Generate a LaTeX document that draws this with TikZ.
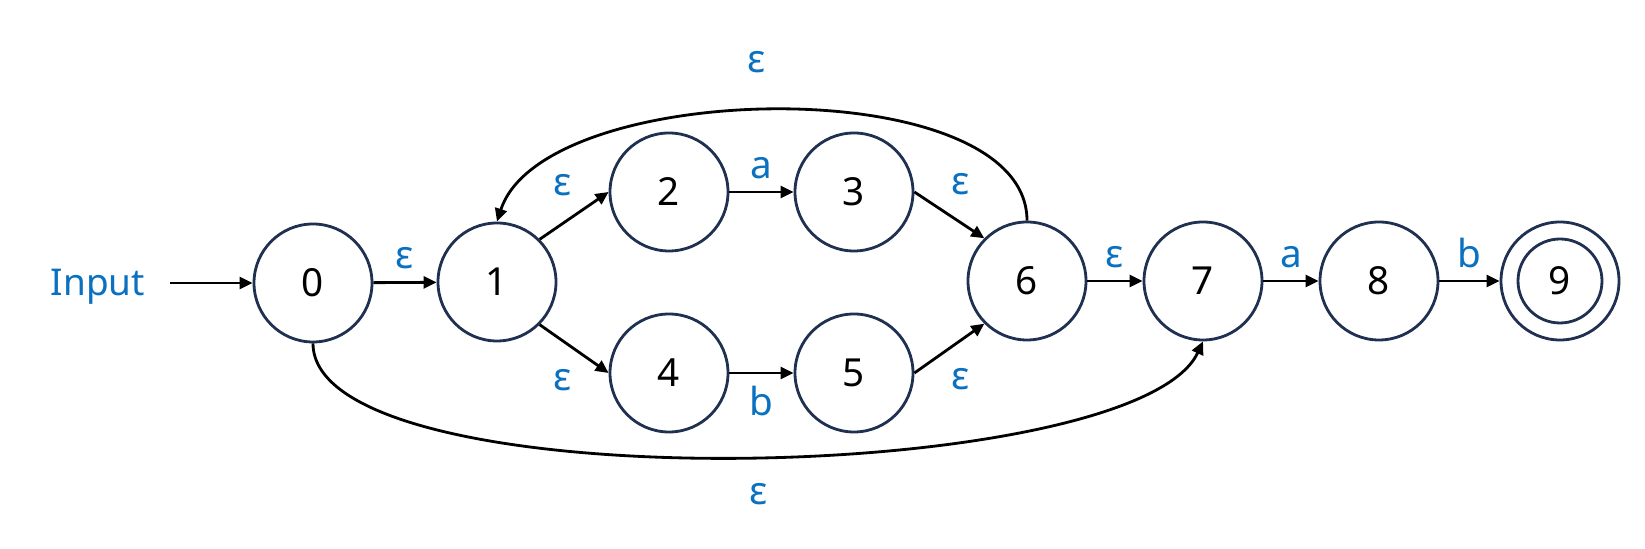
\documentclass[tikz,border=0pt]{standalone}
\usepackage{fontspec}
\setmainfont{Noto Sans}
\usetikzlibrary{arrows.meta}
\definecolor{symblue}{HTML}{0A70C0}
\definecolor{ringnavy}{HTML}{1F3050}
\begin{document}
\begin{tikzpicture}[
    state/.style={circle, draw=ringnavy, line width=0.8pt, minimum size=1.18cm, inner sep=0pt, font=\fontsize{11}{13}\selectfont},
    trans/.style={-{Triangle[length=0.13cm, width=0.12cm]}, line width=0.8pt},
    sym/.style={text=symblue, font=\fontsize{11}{13}\selectfont}
    ]
    \useasboundingbox (0,0) rectangle (16.45,5.49);

    \node[sym, font=\fontsize{10.5}{12}\selectfont] (in) at (0.98,2.62) {Input};
    \coordinate (start) at (1.70,2.66);
    \node[state] (0) at (3.13,2.66) {0};
    \node[state] (1) at (4.97,2.67) {1};
    \node[state] (2) at (6.69,3.57) {2};
    \node[state] (3) at (8.54,3.57) {3};
    \node[state] (4) at (6.69,1.76) {4};
    \node[state] (5) at (8.54,1.76) {5};
    \node[state] (6) at (10.27,2.68) {6};
    \node[state] (7) at (12.03,2.68) {7};
    \node[state] (8) at (13.79,2.68) {8};
    \node[state] (9) at (15.60,2.68) {9};
    \draw[ringnavy, line width=0.8pt] (9) circle[radius=0.42];

    \draw[trans] (start) -- (0);
    \draw[trans] (0) -- node[sym, above]{ε} (1);
    \draw[trans] (1.45) -- node[sym, above left, pos=0.65]{ε} (2.west);
    \draw[trans] (1.-45) -- node[sym, below left, pos=0.65]{ε} (4.west);
    \draw[trans] (2) -- node[sym, above]{a} (3);
    \draw[trans] (4) -- node[sym, below]{b} (5);
    \draw[trans] (3.east) -- node[sym, above right, pos=0.35]{ε} (6.135);
    \draw[trans] (5.east) -- node[sym, below right, pos=0.35]{ε} (6.-135);
    \draw[trans] (6) -- node[sym, above]{ε} (7);
    \draw[trans] (7) -- node[sym, above]{a} (8);
    \draw[trans] (8) -- node[sym, above]{b} (9);
    \draw[trans] (6.north) to[out=90, in=72, looseness=0.73] node[sym, above=0.25cm, pos=0.53]{ε} (1.north);
    \draw[trans] (0.south) to[out=-90, in=-115, looseness=0.46] node[sym, below=0.14cm, pos=0.52]{ε} (7.south);

\end{tikzpicture}
\end{document}
